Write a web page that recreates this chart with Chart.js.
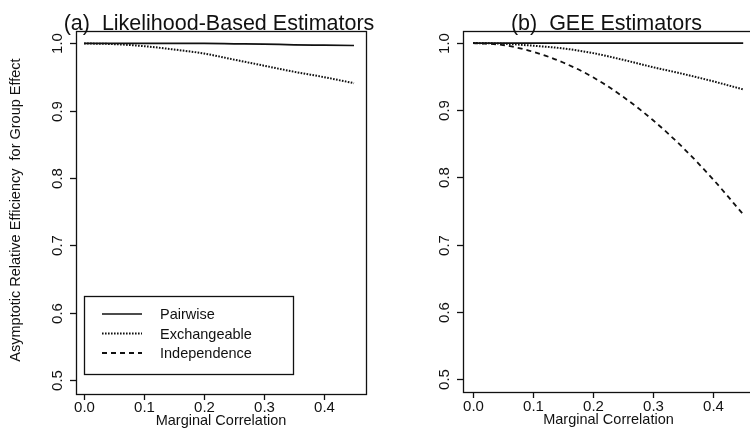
<!DOCTYPE html>
<html>
<head>
<meta charset="utf-8">
<script src="https://cdn.jsdelivr.net/npm/chart.js@4/dist/chart.umd.min.js"></script>
<style>
  html, body { margin: 0; padding: 0; background: #fff; overflow: hidden; width: 750px; height: 428px; }
  canvas { position: absolute; top: 0; }
  #cA { left: 0; }
  #cB { left: 380px; }
</style>
</head>
<body>
<canvas id="cA" width="375" height="428"></canvas>
<canvas id="cB" width="400" height="428"></canvas>
<script>
// ---- data ----
const rho = [0, 0.05, 0.10, 0.15, 0.20, 0.25, 0.30, 0.35, 0.40, 0.45];
const likPairwise = [1.000, 1.000, 1.000, 1.000, 1.000, 0.9995, 0.999, 0.998, 0.9975, 0.997];
const likExchangeable = [1.000, 0.999, 0.996, 0.991, 0.985, 0.976, 0.967, 0.958, 0.950, 0.941];
const geePairwise = [1.000, 1.000, 1.000, 1.000, 1.000, 1.000, 1.000, 1.000, 1.000, 1.000];
const geeExchangeable = [1.000, 0.999, 0.996, 0.992, 0.985, 0.975, 0.964, 0.954, 0.943, 0.931];
const geeIndependence = [1.000, 0.997, 0.987, 0.971, 0.949, 0.920, 0.885, 0.844, 0.797, 0.745];
const xTicks = [0, 0.1, 0.2, 0.3, 0.4];
const xTickLabels = ["0.0", "0.1", "0.2", "0.3", "0.4"];
const yTicks = [0.5, 0.6, 0.7, 0.8, 0.9, 1.0];
const yTickLabels = ["0.5", "0.6", "0.7", "0.8", "0.9", "1.0"];
const seriesNames = ["Pairwise", "Exchangeable", "Independence"];
const panelTitles = ["(a)  Likelihood-Based Estimators", "(b)  GEE Estimators"];
const xTitle = "Marginal Correlation";
const yTitle = "Asymptotic Relative Efficiency  for Group Effect";

const FONT = "'Liberation Sans', Arial, Helvetica, sans-serif";
const INK = "#111";
const styles = {
  Pairwise: { borderDash: [], borderWidth: 1.7 },
  Exchangeable: { borderDash: [1.6, 1.4], borderWidth: 2 },
  Independence: { borderDash: [5, 4], borderWidth: 1.8 }
};

function pts(ys) { return rho.map((x, i) => ({ x: x, y: ys[i] })); }
function ds(name, ys) {
  return Object.assign({
    label: name, data: pts(ys), borderColor: INK, backgroundColor: INK,
    pointRadius: 0, fill: false, tension: 0.4, cubicInterpolationMode: 'monotone'
  }, styles[name]);
}

function decorPlugin(cfg) {
  return {
    id: 'decor',
    afterDraw(chart) {
      const ctx = chart.ctx;
      const ca = chart.chartArea;
      const xs = chart.scales.x, ys = chart.scales.y;
      ctx.save();
      ctx.strokeStyle = INK; ctx.fillStyle = INK; ctx.lineWidth = 1.3; ctx.setLineDash([]);
      // box
      ctx.strokeRect(Math.round(ca.left) + 0.5, Math.round(ca.top) + 0.5,
                     Math.round(ca.right - ca.left), Math.round(ca.bottom - ca.top));
      // y ticks
      ctx.font = "15px " + FONT;
      ctx.textAlign = 'center'; ctx.textBaseline = 'middle';
      yTicks.forEach((v, i) => {
        const y = Math.round(ys.getPixelForValue(v)) + 0.5;
        ctx.beginPath(); ctx.moveTo(ca.left, y); ctx.lineTo(ca.left - 6, y); ctx.stroke();
        ctx.save(); ctx.translate(ca.left - 18, y); ctx.rotate(-Math.PI / 2);
        ctx.fillText(yTickLabels[i], 0, 0); ctx.restore();
      });
      // x ticks
      xTicks.forEach((v, i) => {
        const x = Math.round(xs.getPixelForValue(v)) + 0.5;
        ctx.beginPath(); ctx.moveTo(x, ca.bottom); ctx.lineTo(x, ca.bottom + 6); ctx.stroke();
        ctx.fillText(xTickLabels[i], x, cfg.xLabelY);
      });
      const cx = (ca.left + ca.right) / 2;
      ctx.font = "14.5px " + FONT;
      ctx.fillText(xTitle, cx, cfg.xTitleY);
      // panel title
      ctx.font = "21.5px " + FONT;
      ctx.textBaseline = 'alphabetic';
      ctx.fillText(cfg.title, cx - 2, 30);
      // y title
      if (cfg.yTitle) {
        ctx.font = "14.5px " + FONT;
        ctx.textBaseline = 'middle';
        ctx.save(); ctx.translate(16, 210); ctx.rotate(-Math.PI / 2);
        ctx.fillText(cfg.yTitle, 0, 0); ctx.restore();
      }
      // legend
      if (cfg.legend) {
        const L = cfg.legend;
        ctx.lineWidth = 1.3;
        ctx.strokeRect(L.x + 0.5, L.y + 0.5, L.w, L.h);
        ctx.font = "14.5px " + FONT;
        ctx.textAlign = 'left'; ctx.textBaseline = 'middle';
        seriesNames.forEach((n, i) => {
          const yy = L.firstRow + i * L.rowGap;
          const st = styles[n];
          ctx.save();
          ctx.lineWidth = st.borderWidth; ctx.setLineDash(st.borderDash);
          ctx.beginPath(); ctx.moveTo(L.lineX0, yy); ctx.lineTo(L.lineX1, yy); ctx.stroke();
          ctx.restore();
          ctx.fillText(n, L.textX, yy + 1);
        });
      }
      ctx.restore();
    }
  };
}

function makeChart(id, datasets, pad, xRange, yRange, cfg) {
  return new Chart(document.getElementById(id), {
    type: 'line',
    data: { datasets: datasets },
    options: {
      responsive: false, animation: false, devicePixelRatio: 1,
      layout: { padding: pad },
      plugins: { legend: { display: false }, tooltip: { enabled: false } },
      scales: {
        x: { type: 'linear', display: false, min: xRange[0], max: xRange[1] },
        y: { type: 'linear', display: false, min: yRange[0], max: yRange[1] }
      }
    },
    plugins: [decorPlugin(cfg)]
  });
}

makeChart('cA',
  [ds("Pairwise", likPairwise), ds("Exchangeable", likExchangeable)],
  { left: 76, top: 31, right: 9, bottom: 34 },
  [-0.0135, 0.47], [0.4795, 1.0185],
  { title: panelTitles[0], xLabelY: 408, xTitleY: 421, yTitle: yTitle,
    legend: { x: 84, y: 296, w: 209, h: 78, lineX0: 102, lineX1: 142, textX: 160, firstRow: 314, rowGap: 19.5 } });

makeChart('cB',
  [ds("Pairwise", geePairwise), ds("Exchangeable", geeExchangeable), ds("Independence", geeIndependence)],
  { left: 83, top: 31, right: 26, bottom: 36 },
  [-0.0167, 0.468], [0.4807, 1.0179],
  { title: panelTitles[1], xLabelY: 407, xTitleY: 420, yTitle: null, legend: null });
</script>
</body>
</html>
